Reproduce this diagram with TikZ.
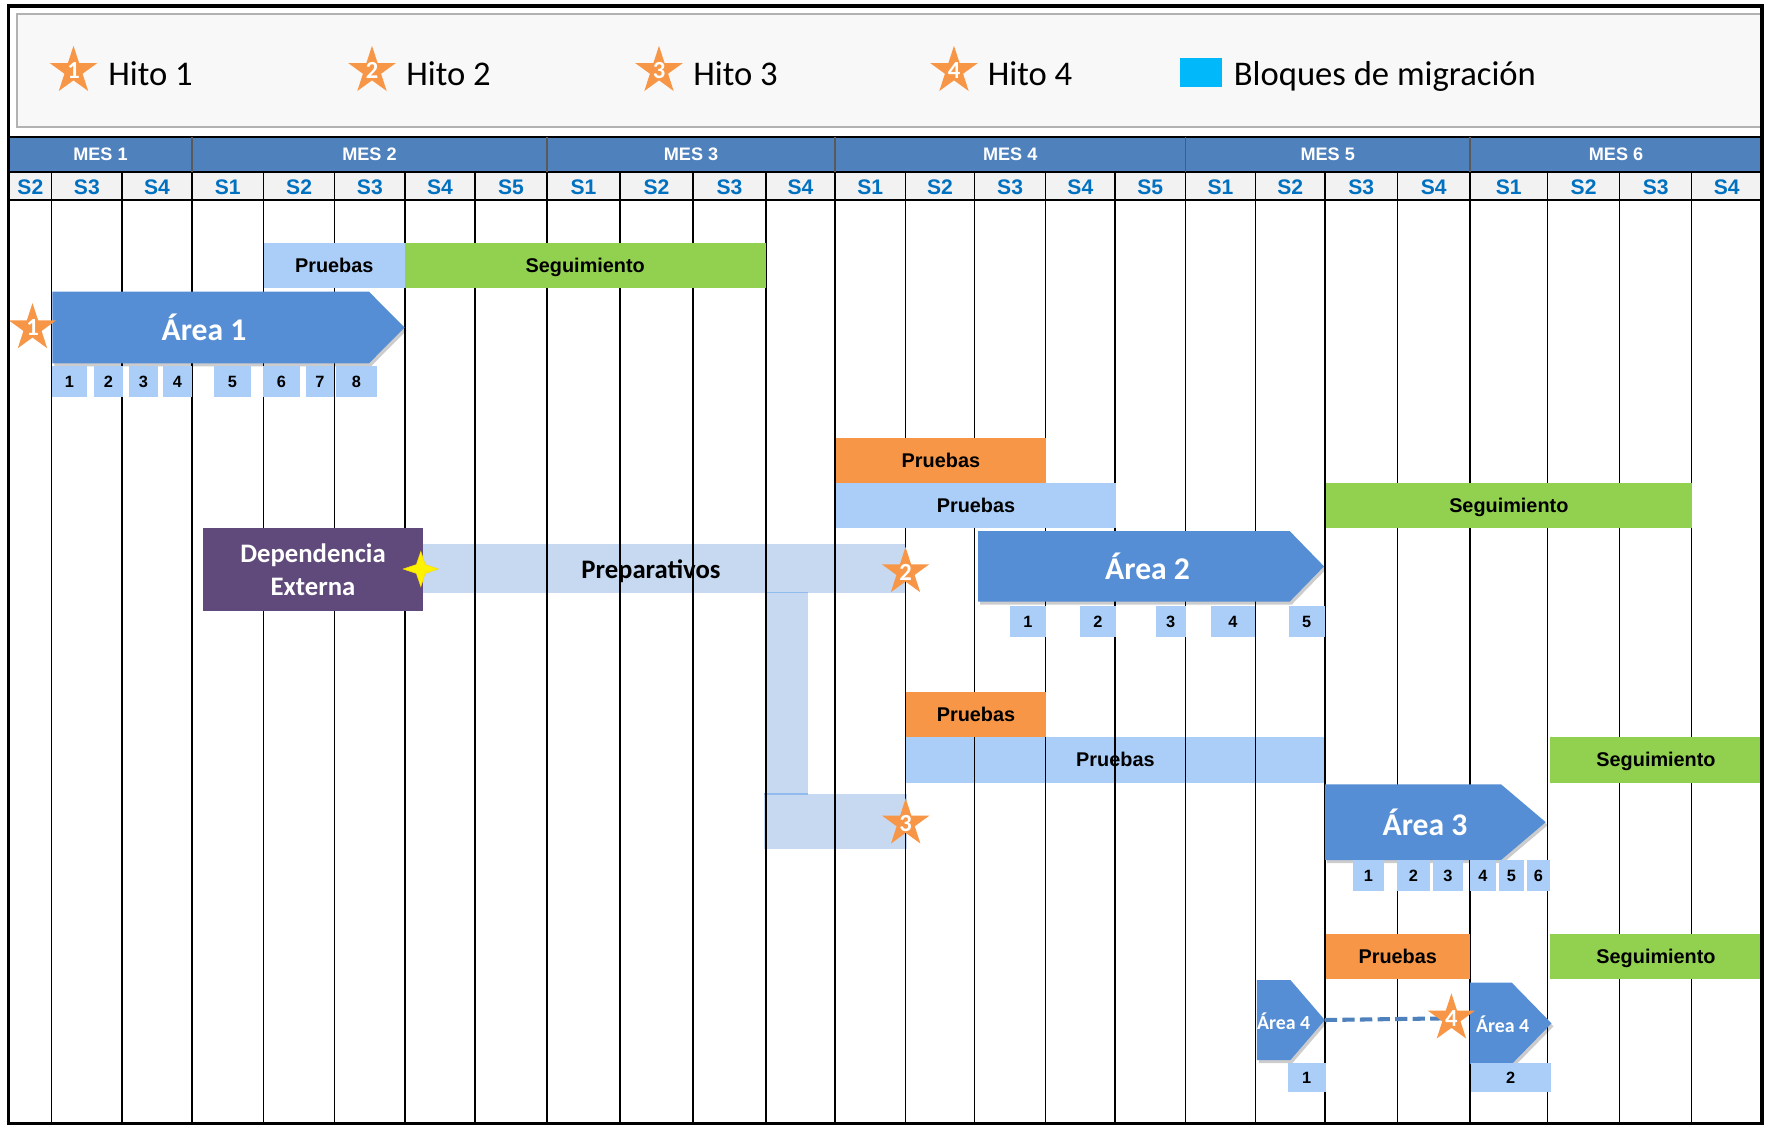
\documentclass[tikz,border=0pt]{standalone}
\usepackage{fontspec}
\setmainfont{Carlito}
\newfontfamily\arial{Liberation Sans}
\usetikzlibrary{shapes.geometric}

\definecolor{azulmes}{RGB}{79,129,189}
\definecolor{azulsem}{RGB}{0,112,192}
\definecolor{grissem}{RGB}{242,242,242}
\definecolor{grisley}{RGB}{248,248,248}
\definecolor{celeste}{RGB}{170,206,248}
\definecolor{celestec}{RGB}{198,217,241}
\definecolor{verde}{RGB}{146,208,80}
\definecolor{naranja}{RGB}{247,150,70}
\definecolor{morado}{RGB}{96,74,123}
\definecolor{azularea}{RGB}{85,142,213}
\definecolor{cian}{RGB}{0,184,250}

\def\barra[#1](#2,#3)(#4,#5)#6#7{%
  \fill[#1] (#2,#3) rectangle (#4,#5);
  \node[tarea] (#6) at ({(#2+#4)/2},{(#3+#5)/2}) {#7};}
\def\flecha(#1,#2,#3,#4,#5,#6)#7#8#9{%
  \fill[sombra] (#1,#4) -- (#2,#4) -- (#3,{(#4+#5)/2}) -- (#2,#5) -- (#1,#5) -- cycle;
  \fill[azularea] (#1,#4) -- (#2,#4) -- (#3,{(#4+#5)/2}) -- (#2,#5) -- (#1,#5) -- cycle;
  \coordinate (#7-punta) at (#3,{(#4+#5)/2});
  \node[#8] (#7) at (#6,{(#4+#5)/2+3}) {#9};}
\def\cajas(#1,#2)#3#4{%
  \foreach \a/\b/\n in {#4} {
    \fill[celeste] (\a,#1) rectangle (\b,#2);
    \node[num] (#3-\n) at ({(\a+\b)/2},{(#1+#2)/2}) {\n};}}

\begin{document}
\begin{tikzpicture}[x=0.02cm, y=-0.02cm,
    mes/.style={font=\arial\bfseries\fontsize{10.3}{12}\selectfont, text=white, text height=7.4pt, text depth=0pt},
    semana/.style={font=\arial\bfseries\fontsize{12}{14}\selectfont, text=azulsem, text height=8.6pt, text depth=0pt},
    tarea/.style={font=\arial\bfseries\fontsize{11.3}{13}\selectfont, text height=8.1pt, text depth=0pt},
    num/.style={font=\arial\bfseries\fontsize{9.3}{11}\selectfont, text height=6.6pt, text depth=0pt},
    area/.style={font=\bfseries\fontsize{18}{22}\selectfont, text=white, text height=11.6pt, text depth=0pt},
    areachica/.style={font=\bfseries\fontsize{11.3}{13}\selectfont, text=white, text height=7.3pt, text depth=0pt},
    prep/.style={font=\bfseries\fontsize{15.2}{18}\selectfont, text height=9.8pt, text depth=0pt},
    dep/.style={font=\bfseries\fontsize{15.2}{18.7}\selectfont, text=white, align=center},
    leyenda/.style={font=\fontsize{19.7}{23}\selectfont, anchor=base west, inner sep=0pt},
    hito/.style={star, star points=5, star point ratio=2.618, fill=naranja, minimum size=1cm, inner sep=0pt},
    hitonum/.style={text=white, font=\bfseries\fontsize{14}{16}\selectfont, inner sep=0pt},
    destello/.style={star, star points=4, star point ratio=2.8, fill=yellow, draw=yellow!80!orange, line width=0.3pt, minimum size=0.7cm, inner sep=0pt},
    sombra/.style={fill=black, fill opacity=0.2, shift={(2,3)}},
    rejilla/.style={black, line width=0.7pt},
    enlace/.style={azulmes, line width=2.3pt, dash pattern=on 7pt off 3pt}]
%%%%% START %%%%%
\useasboundingbox (0,0) rectangle (1767,1125);
\fill[white] (0,0) rectangle (1767,1125);

% leyenda
\draw[gray!60, fill=grisley, line width=0.8pt] (17,14) rectangle (1762,127);
\foreach \x/\t [count=\i] in {73.5/108, 372/406, 659/693, 954/987.5}{
  \node[hito, label={[hitonum]center:\i}] (ley\i) at (\x,70.8) {};
  \node[leyenda] (leytxt\i) at (\t,86) {Hito \i};}
\fill[cian] (1179.8,58.3) rectangle (1222,87.3);
\node[leyenda] (leytxt5) at (1233.5,86) {Bloques de migración};

% cabecera
\fill[azulmes] (9,137) rectangle (1762,172);
\fill[grissem] (9,172) rectangle (1762,200);
\draw[line width=0.6pt] (9,172) -- (1762,172);
\draw[line width=0.9pt] (9,200) -- (1762,200);
\draw[line width=1.7pt] (9,137) -- (1762,137);
\foreach \x in {192,547,835,1185.4,1470} \draw[black!65, line width=0.6pt] (\x,137) -- (\x,172);
\foreach \a/\b [count=\i] in {9/192,192/547,547/835,835/1185.4,1185.4/1470,1470/1762}
  \node[mes] (mes\i) at ({(\a+\b)/2},154.5) {MES \i};
\foreach \a/\b/\s [count=\i] in {9/51.7/S2, 51.7/122/S3, 122/192/S4, 192/263.5/S1, 263.5/334.7/S2,
    334.7/405/S3, 405/475/S4, 475/547/S5, 547/620/S1, 620/693/S2, 693/766/S3, 766/835/S4,
    835/905.5/S1, 905.5/974.5/S2, 974.5/1045.7/S3, 1045.7/1115/S4, 1115/1185.4/S5,
    1185.4/1255.6/S1, 1255.6/1325/S2, 1325/1397.5/S3, 1397.5/1470/S4,
    1470/1547.4/S1, 1547.4/1619.8/S2, 1619.8/1691.6/S3, 1691.6/1762/S4}
  \node[semana] (sem\i) at ({(\a+\b)/2},186.5) {\s};

% barras bajo la rejilla
\fill[celestec] (423,544) rectangle (905.5,592.7);
\fill[celestec] (765,592.7) rectangle (807.6,794);
\fill[celestec] (764,794) rectangle (907,849);
\draw[celeste!70!azularea, line width=0.6pt] (765,592.7) -- (807.6,592.7);
\draw[celeste!70!azularea, line width=0.6pt] (764,794) -- (807.6,794);
\fill[celeste] (905.6,736.7) rectangle (1325.2,782.7);

% rejilla
\foreach \x in {51.7,122,192,263.5,334.7,405,475,547,620,693,766,835,905.5,974.5,1045.7,
    1115,1185.4,1255.6,1325,1397.5,1470,1547.4,1619.8,1691.6}
  \draw[rejilla] (\x,172) -- (\x,1124);

\node[prep] (prep) at (651,570) {Preparativos};
\node[tarea] (pru3) at (1115.4,759.7) {Pruebas};

% tareas
\barra[celeste](264,243.3)(404.5,288.3){pru1}{Pruebas}
\barra[verde](404.5,243.3)(766,288.3){seg1}{Seguimiento}
\barra[naranja](836,438.3)(1045.8,482.7){nar2}{Pruebas}
\barra[celeste](836,482.7)(1115.9,528.3){pru2}{Pruebas}
\barra[verde](1326,482.7)(1691.6,528.3){seg2}{Seguimiento}
\barra[naranja](905.6,691.7)(1046.4,736.7){nar3}{Pruebas}
\barra[verde](1550,736.7)(1762,782.7){seg3}{Seguimiento}
\barra[naranja](1325.5,934)(1470,979.3){nar4}{Pruebas}
\barra[verde](1550,934)(1762,979.3){seg4}{Seguimiento}

\fill[morado] (203,528.3) rectangle (423,610.7);
\node[dep] (dep) at (313,570) {Dependencia\\Externa};

% areas
\flecha(52.4,369,404.5,291.7,363.3,204){a1}{area}{Área 1}
\flecha(978,1289.6,1324,531,601.7,1147.6){a2}{area}{Área 2}
\flecha(1325,1501,1545.7,784.3,860,1425){a3}{area}{Área 3}
\flecha(1256.8,1290.4,1324.8,980,1060,1283.6){a4a}{areachica}{Área 4}
\flecha(1470,1511.8,1551.5,982.7,1064,1502.7){a4b}{areachica}{Área 4}

% bloques
\cajas(365.7,396.7){a1n}{51.7/86.9/1, 94.1/122.5/2, 129/157.7/3, 163/192/4, 214/251/5, 263.3/299.7/6, 306/334/7, 335.6/377/8}
\cajas(606,636.7){a2n}{1010/1045.8/1, 1080/1115.9/2, 1156/1185.5/3, 1211/1255/4, 1288.5/1324.8/5}
\cajas(860,890.7){a3n}{1353/1384/1, 1397/1429.6/2, 1433/1463/3, 1470/1495.8/4, 1499/1523.7/5, 1527/1550/6}
\cajas(1063,1091.7){a4n}{1288/1325.5/1, 1470.5/1550.8/2}

% hitos
\node[hito, label={[hitonum]center:1}] (h1) at (32.5,328) {};
\node[destello] (chispa) at (420.8,569) {};
\node[hito, label={[hitonum]center:2}] (h2) at (905.5,572) {};
\node[hito, label={[hitonum]center:3}] (h3) at (905.7,823.3) {};
\coordinate (h4c) at (1451.4,1018.3);
\draw[enlace] (a4a-punta) -- (h4c);
\node[hito, label={[hitonum]center:4}] (h4) at (h4c) {};

% marco
\draw[line width=2pt] (8.5,6) rectangle (1762,1124);
%%%%% END %%%%%
\end{tikzpicture}
\end{document}
